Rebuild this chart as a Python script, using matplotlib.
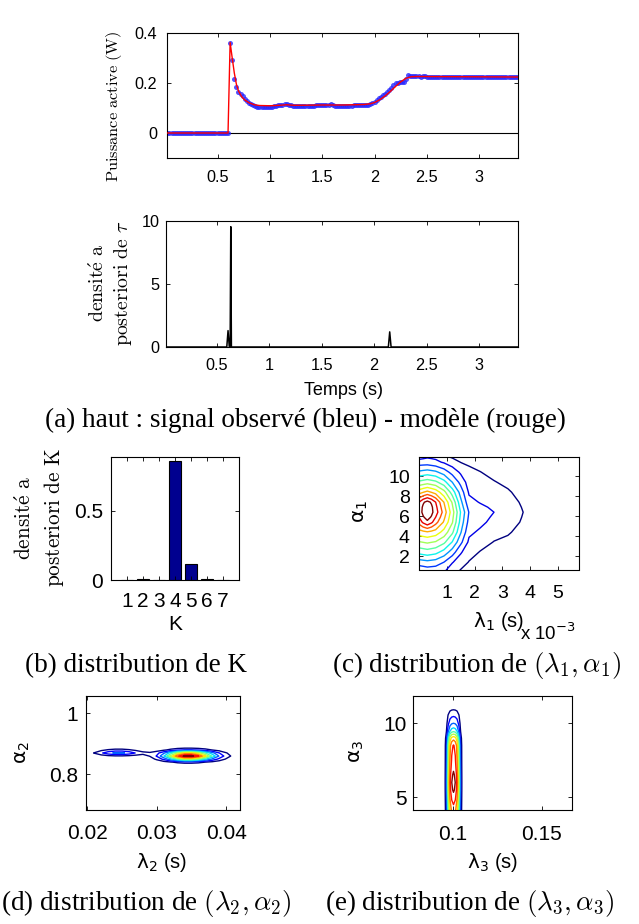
import matplotlib
matplotlib.use('Agg')
import matplotlib.pyplot as plt
import numpy as np
from matplotlib import ticker

plt.rcParams['font.family'] = ['Liberation Sans', 'DejaVu Sans']
plt.rcParams['mathtext.fontset'] = 'cm'

W, H = 639, 924

# ---- (a) observed power signal (blue dots, one every 0.02 s) ----
sig_t = np.arange(1, 169) * 0.02
sig_p = [0.0] * 30 + [
    0.362, 0.292, 0.217, 0.183, 0.163, 0.155, 0.147, 0.138, 0.128, 0.121,
    0.115, 0.111, 0.108, 0.106, 0.105, 0.104, 0.104, 0.104, 0.104, 0.105,
    0.106, 0.108, 0.110, 0.111, 0.112, 0.113, 0.115, 0.116, 0.114, 0.112,
    0.110, 0.108, 0.107, 0.107, 0.107, 0.108, 0.108, 0.109, 0.109, 0.110,
    0.110, 0.111, 0.111, 0.112, 0.112, 0.112, 0.113, 0.114, 0.115, 0.113,
    0.110, 0.108, 0.107, 0.108, 0.109, 0.108, 0.109, 0.110, 0.110, 0.111,
    0.111, 0.112, 0.112, 0.113, 0.113, 0.114, 0.114, 0.116, 0.120, 0.126,
    0.132, 0.140, 0.146, 0.152, 0.158, 0.165, 0.173, 0.182, 0.192, 0.199,
    0.202, 0.203, 0.204, 0.206, 0.218, 0.232, 0.230, 0.228, 0.227, 0.227,
    0.227, 0.226, 0.227, 0.227, 0.226, 0.226, 0.226, 0.225, 0.226, 0.226,
    0.225, 0.226, 0.225, 0.225, 0.225, 0.226, 0.225, 0.225, 0.224, 0.225,
    0.225, 0.225, 0.224, 0.225, 0.225, 0.225, 0.224, 0.225, 0.225, 0.225,
    0.225, 0.224, 0.225, 0.225, 0.225, 0.224, 0.225, 0.225, 0.225, 0.225,
    0.225, 0.225, 0.224, 0.225, 0.225, 0.225, 0.225, 0.225]

# model (red)
model_t = [0.02, 0.60, 0.62, 0.64, 0.66, 0.68, 0.70, 0.73, 0.76, 0.80, 0.85,
           0.90, 1.00, 1.10, 1.16, 1.22, 1.30, 1.50, 1.70, 1.90, 1.96, 2.00,
           2.05, 2.10, 2.15, 2.20, 2.25, 2.30, 2.35, 2.40, 3.37]
model_p = [0, 0, 0.362, 0.300, 0.240, 0.195, 0.168, 0.145, 0.132, 0.121, 0.113,
           0.110, 0.109, 0.111, 0.113, 0.111, 0.111, 0.112, 0.112, 0.114, 0.117,
           0.122, 0.133, 0.148, 0.166, 0.186, 0.205, 0.219, 0.225, 0.226, 0.224]

# posterior density of tau
tau_t = [0.017, 0.596, 0.608, 0.620, 0.628, 0.634, 0.640, 2.135, 2.148, 2.161, 3.37]
tau_d = [0, 0, 1.3, 0, 0, 9.55, 0, 0, 1.2, 0, 0]

# ---- (b) posterior of K ----
k_vals = [1, 2, 3, 4, 5, 6, 7]
k_prob = [0.0, 0.009, 0.0, 0.861, 0.115, 0.006, 0.0]

# ---- (c) density of (lambda1, alpha1), contour levels 1..12 ----
lam1 = [0, 0.00015, 0.0003, 0.00045, 0.0006, 0.0009, 0.0012, 0.0015, 0.0018,
        0.0022, 0.0027, 0.0032, 0.0038, 0.0045, 0.0058]
alp1 = [0.6, 1.4, 2.4, 3.4, 4.4, 5.4, 5.9, 6.4, 6.9, 7.4, 8.4, 9.4, 10.4, 11.4, 12.0]
dens1 = [
    [2.25, 2.39, 2.53, 2.49, 2.45, 2.20, 1.40, 0.95, 0.70, 0.50, 0.35, 0.30, 0.25, 0.15, 0.05],
    [3.55, 3.64, 3.73, 3.64, 3.55, 2.99, 2.07, 1.45, 0.95, 0.70, 0.50, 0.42, 0.33, 0.20, 0.08],
    [5.30, 5.43, 5.55, 5.43, 5.30, 4.60, 3.49, 2.12, 1.37, 0.95, 0.70, 0.60, 0.45, 0.28, 0.10],
    [6.90, 7.02, 7.14, 7.02, 6.90, 6.21, 4.93, 3.26, 1.79, 1.38, 0.96, 0.85, 0.60, 0.36, 0.14],
    [8.55, 8.72, 8.88, 8.72, 8.55, 7.62, 6.18, 4.10, 2.22, 1.82, 1.33, 1.07, 0.75, 0.44, 0.18],
    [10.38, 11.2, 11.8, 11.2, 10.38, 8.86, 7.07, 4.63, 2.66, 2.25, 1.70, 1.32, 0.87, 0.50, 0.20],
    [11.0, 11.9, 12.35, 11.9, 11.0, 9.22, 7.26, 4.79, 2.81, 2.38, 1.85, 1.43, 0.91, 0.53, 0.21],
    [11.45, 12.25, 12.6, 12.25, 11.5, 9.57, 7.45, 4.95, 2.95, 2.50, 2.00, 1.54, 0.95, 0.55, 0.22],
    [11.3, 12.2, 12.6, 12.2, 11.3, 9.27, 7.16, 4.63, 2.63, 2.22, 1.82, 1.42, 0.90, 0.53, 0.21],
    [11.0, 11.85, 12.35, 11.85, 11.0, 8.97, 6.87, 4.30, 2.31, 1.94, 1.64, 1.30, 0.85, 0.50, 0.20],
    [8.61, 8.96, 9.30, 8.96, 8.61, 7.35, 5.54, 3.59, 1.87, 1.63, 1.34, 1.08, 0.72, 0.44, 0.18],
    [6.23, 6.40, 6.57, 6.40, 6.23, 5.37, 3.99, 2.68, 1.53, 1.32, 1.04, 0.85, 0.60, 0.36, 0.14],
    [4.20, 4.33, 4.45, 4.33, 4.20, 3.54, 2.63, 1.83, 1.20, 1.02, 0.80, 0.68, 0.48, 0.30, 0.11],
    [2.45, 2.47, 2.48, 2.37, 2.25, 1.88, 1.44, 0.98, 0.87, 0.75, 0.60, 0.50, 0.38, 0.24, 0.08],
    [1.50, 1.65, 1.80, 1.75, 1.70, 1.13, 0.80, 0.60, 0.60, 0.55, 0.45, 0.40, 0.32, 0.20, 0.07]]

# ---- (d) density of (lambda2, alpha2): main mode + side mode profiles ----
lam2 = [0.020, 0.021, 0.022, 0.023, 0.024, 0.025, 0.026, 0.027, 0.028, 0.029,
        0.030, 0.031, 0.032, 0.033, 0.034, 0.035, 0.036, 0.037, 0.038, 0.039,
        0.040, 0.041, 0.042]
alp2 = [0.82, 0.83, 0.84, 0.85, 0.86, 0.87, 0.88, 0.89, 0.90]
main_lam2 = [0, 0, 0, 0, 0, 0.0002, 0.0029, 0.0105, 0.0326, 0.0862, 0.194,
             0.371, 0.603, 0.833, 0.980, 0.984, 0.867, 0.672, 0.460, 0.276,
             0.146, 0.0684, 0.0281]
main_alp2 = [0.006, 0.145, 1.48, 6.18, 10.55, 7.39, 2.12, 0.248, 0.012]
side_lam2 = [0.155, 0.324, 0.563, 0.813, 0.977, 0.977, 0.813, 0.563, 0.324,
             0.155, 0.0616, 0.02, 0.005, 0, 0, 0, 0, 0, 0, 0, 0, 0, 0]
side_alp2 = [0, 0, 0, 0.028, 0.89, 3.26, 1.37, 0.066, 0]

# ---- (e) density of (lambda3, alpha3) profiles ----
lam3 = [0.0943, 0.0953, 0.0963, 0.0973, 0.0983, 0.0993, 0.1003, 0.1013, 0.1023,
        0.1033, 0.1043, 0.1053, 0.1063]
lam3_prof = [0.01, 0.05, 0.2, 0.58, 0.84, 0.96, 1.0, 0.96, 0.84, 0.58, 0.2,
             0.05, 0.01]
alp3 = [4.0, 4.5, 5.0, 5.5, 6.0, 6.5, 7.0, 7.5, 8.0, 8.5, 9.0, 9.5, 10.0, 10.5,
        11.0, 11.5, 12.0]
alp3_prof = [8.4, 9.0, 9.6, 10.2, 10.4, 10.2, 9.8, 9.5, 9.3, 9.1, 7.6, 4.6, 3.0,
             1.9, 0.8, 0.2, 0.0]

fig = plt.figure(figsize=(W / 100, H / 100), dpi=100)


def add_ax(l, t, r, b):
    return fig.add_axes([l / W, 1 - b / H, (r - l) / W, (b - t) / H])


def style(ax, size, xpad, ypad):
    ax.tick_params(direction='in', top=True, right=True, length=2.8,
                   width=0.6, labelsize=size)
    ax.tick_params(axis='x', pad=xpad)
    ax.tick_params(axis='y', pad=ypad)
    for s in ax.spines.values():
        s.set_linewidth(0.8)


def place(ax, axis, xpx, ypx):
    # put an axis label centre at a pixel position of the figure
    pos = ax.get_position()
    l, r = pos.x0 * W, pos.x1 * W
    t, b = (1 - pos.y1) * H, (1 - pos.y0) * H
    coords = ((xpx - l) / (r - l), (b - ypx) / (b - t))
    if axis == 'x':
        ax.xaxis.set_label_coords(*coords)
    else:
        ax.yaxis.set_label_coords(*coords)


fmt_g = ticker.FormatStrFormatter('%g')

# (a) top: power
ax1 = add_ax(167, 33, 518, 158)
ax1.axhline(0, color='k', lw=0.8, zorder=1)
ax1.plot(sig_t, sig_p, 'o', ms=3.6, mfc=(0.15, 0.15, 1.0), mec='none',
         alpha=0.8, zorder=2)
ax1.plot(model_t, model_p, color='r', lw=1.0, zorder=3)
ax1.set_xlim(0.017, 3.37)
ax1.set_ylim(-0.1, 0.4)
ax1.set_xticks([0.5, 1, 1.5, 2, 2.5, 3])
ax1.set_yticks([0, 0.2, 0.4])
ax1.xaxis.set_major_formatter(fmt_g)
ax1.yaxis.set_major_formatter(fmt_g)
style(ax1, 11.7, 9, 7)
ax1.set_ylabel(r'$\mathrm{Puissance\ active\ (W)}$', fontsize=11.8,
               va='center', ha='center')
place(ax1, 'y', 114, 106)

# (a) bottom: density of tau
ax2 = add_ax(166, 221, 518, 347)
ax2.plot(tau_t, tau_d, color='k', lw=1.1)
ax2.set_xlim(0.017, 3.37)
ax2.set_ylim(0, 10)
ax2.set_xticks([0.5, 1, 1.5, 2, 2.5, 3])
ax2.set_yticks([0, 5, 10])
ax2.xaxis.set_major_formatter(fmt_g)
style(ax2, 11.7, 8, 4.5)
ax2.set_xlabel('Temps (s)', fontsize=13, va='center', ha='center')
place(ax2, 'x', 344, 390)
ax2.set_ylabel(r'$\mathrm{densit\acute{e}\ a}$' + '\n' +
               r'$\mathrm{posteriori\ de\ }\tau$', fontsize=14.3,
               va='center', ha='center', linespacing=1.25)
place(ax2, 'y', 111, 283)

fig.text(45 / W, 1 - 426.7 / H,
         '(a) haut : signal observé (bleu) - modèle (rouge)',
         family='Liberation Serif', fontsize=19.5, ha='left', va='baseline')

# (b) K
ax3 = add_ax(111, 457, 239, 580)
ax3.bar(k_vals, k_prob, width=0.8, color=(0, 0, 0.56), edgecolor='k', lw=0.8)
ax3.set_xlim(0, 8)
ax3.set_ylim(0, 0.888)
ax3.set_xticks(k_vals)
ax3.set_yticks([0, 0.5])
ax3.yaxis.set_major_formatter(fmt_g)
style(ax3, 15, 8.5, 5.5)
ax3.set_xlabel('K', fontsize=15, va='center', ha='center')
place(ax3, 'x', 175, 625)
ax3.set_ylabel(r'$\mathrm{densit\acute{e}\ a}$' + '\n' +
               r'$\mathrm{posteriori\ de\ K}$', fontsize=15.3,
               va='center', ha='center', linespacing=1.35)
place(ax3, 'y', 40, 518)
fig.text(25 / W, 1 - 672 / H, '(b) distribution de K',
         family='Liberation Serif', fontsize=19.5, ha='left', va='baseline')

# (c) lambda1, alpha1
ax4 = add_ax(419, 456.5, 579, 569.5)
ax4.contour(lam1, alp1, dens1, levels=np.arange(1, 13), cmap='jet',
            linewidths=1.0)
ax4.set_xlim(0, 0.00576)
ax4.set_ylim(0.67, 11.97)
ax4.set_xticks([0.001, 0.002, 0.003, 0.004, 0.005])
ax4.set_yticks([2, 4, 6, 8, 10])
ax4.xaxis.set_major_formatter(ticker.FuncFormatter(lambda v, p: '%g' % round(v * 1e3, 6)))
style(ax4, 14, 11.5, 6.5)
ax4.set_xlabel(r'$\mathrm{\lambda_1}$ (s)', fontsize=14.5,
               math_fontfamily='dejavusans', va='center', ha='center')
place(ax4, 'x', 499, 622)
ax4.set_ylabel(r'$\mathrm{\alpha_1}$', fontsize=14.5,
               math_fontfamily='dejavusans', va='center', ha='center')
place(ax4, 'y', 361, 511)
fig.text(520 / W, 1 - 640 / H, r'x 10$^{\mathrm{-3}}$', fontsize=13.4,
         math_fontfamily='dejavusans', ha='left', va='baseline')
fig.text(332 / W, 1 - 672 / H, r'(c) distribution de $(\lambda_1, \alpha_1)$',
         family='Liberation Serif', fontsize=19.5, ha='left', va='baseline')

# (d) lambda2, alpha2
dens2 = np.outer(main_alp2, main_lam2) + np.outer(side_alp2, side_lam2)
ax5 = add_ax(86, 696, 240, 810)
ax5.contour(lam2, alp2, dens2, levels=np.arange(1, 11), cmap='jet',
            linewidths=1.0)
ax5.set_xlim(0.0198, 0.042)
ax5.set_ylim(0.683, 1.057)
ax5.set_xticks([0.02, 0.03, 0.04])
ax5.set_yticks([0.8, 1])
ax5.xaxis.set_major_formatter(fmt_g)
ax5.yaxis.set_major_formatter(fmt_g)
style(ax5, 15, 10, 5.5)
ax5.set_xlabel(r'$\mathrm{\lambda_2}$ (s)', fontsize=14.4,
               math_fontfamily='dejavusans', va='center', ha='center')
place(ax5, 'x', 162, 862)
ax5.set_ylabel(r'$\mathrm{\alpha_2}$', fontsize=14.4,
               math_fontfamily='dejavusans', va='center', ha='center')
place(ax5, 'y', 22, 753)
fig.text(1 / W, 1 - 910 / H, r'(d) distribution de $(\lambda_2, \alpha_2)$',
         family='Liberation Serif', fontsize=19.5, ha='left', va='baseline')

# (e) lambda3, alpha3
dens3 = np.outer(alp3_prof, lam3_prof)
ax6 = add_ax(413, 696, 572, 810)
ax6.contour(lam3, alp3, dens3, levels=np.arange(1, 11), cmap='jet',
            linewidths=1.0)
ax6.set_xlim(0.0775, 0.167)
ax6.set_ylim(4.14, 11.84)
ax6.set_xticks([0.1, 0.15])
ax6.set_yticks([5, 10])
ax6.xaxis.set_major_formatter(fmt_g)
style(ax6, 15, 11, 4.5)
ax6.set_xlabel(r'$\mathrm{\lambda_3}$ (s)', fontsize=14.4,
               math_fontfamily='dejavusans', va='center', ha='center')
place(ax6, 'x', 493, 862)
ax6.set_ylabel(r'$\mathrm{\alpha_3}$', fontsize=14.4,
               math_fontfamily='dejavusans', va='center', ha='center')
place(ax6, 'y', 356, 751)
fig.text(325 / W, 1 - 910 / H, r'(e) distribution de $(\lambda_3, \alpha_3)$',
         family='Liberation Serif', fontsize=19.5, ha='left', va='baseline')

fig.savefig('out.png', dpi=100)
